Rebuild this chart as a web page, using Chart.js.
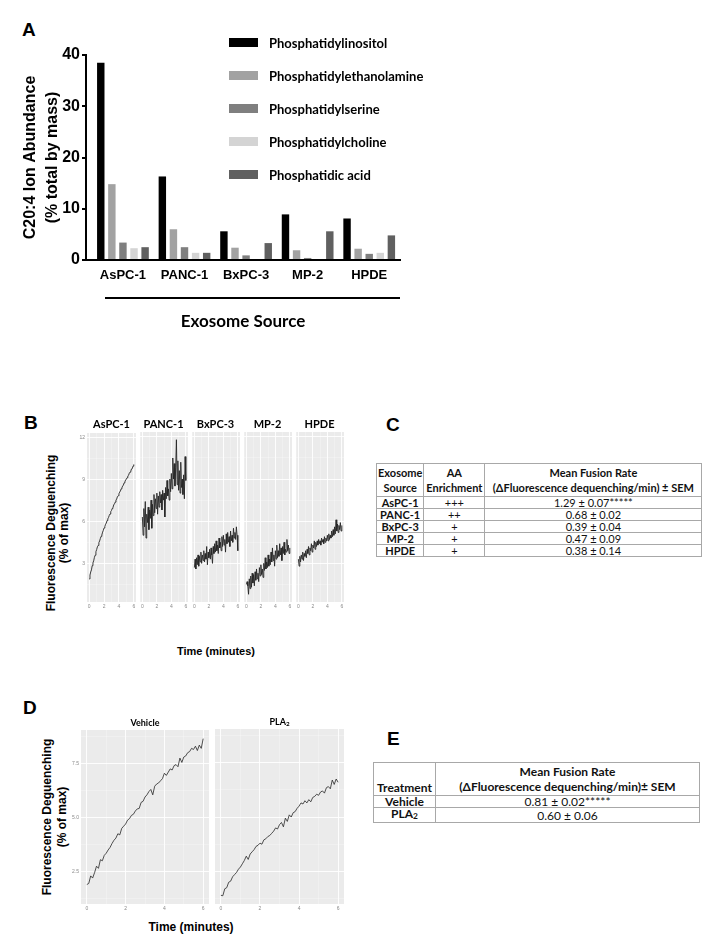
<!DOCTYPE html>
<html><head><meta charset="utf-8">
<script src="https://cdn.jsdelivr.net/npm/chart.js@4.4.0/dist/chart.umd.min.js"></script>
<style>
html,body{margin:0;padding:0;background:#fff;}
#page{position:relative;width:718px;height:944px;overflow:hidden;background:#fff;font-family:Arial,"Liberation Sans",sans-serif;color:#000;}
canvas{position:absolute;}
.letter{position:absolute;font:bold 19px Arial,"Liberation Sans",sans-serif;line-height:19px;}
.strip{position:absolute;font-family:Lato,sans-serif;font-weight:bold;white-space:nowrap;transform:translate(-50%,-50%);line-height:1;}
.ytitle{position:absolute;font-weight:bold;font-family:Arial,"Liberation Sans",sans-serif;text-align:center;white-space:nowrap;transform:translate(-50%,-50%) rotate(-90deg);}
.xtitle{position:absolute;font-weight:bold;font-family:Arial,"Liberation Sans",sans-serif;white-space:nowrap;transform:translate(-50%,-50%);line-height:1;}
#legendA{position:absolute;left:229px;top:26px;font-family:Lato,sans-serif;font-weight:bold;font-size:13px;}
#legendA .row{height:33px;display:flex;align-items:center;}
#legendA .sw{width:29px;height:9px;margin-right:11px;}
table{position:absolute;border-collapse:collapse;table-layout:fixed;font-family:Lato,sans-serif;color:#111;}
td{border:1px solid #a8a8a8;padding:0 1px;text-align:center;white-space:nowrap;overflow:visible;}
td.b{font-weight:bold;}
</style></head>
<body>
<div id="page">
  <div class="letter" style="left:22px;top:20px;">A</div>
  <div class="letter" style="left:24px;top:413px;">B</div>
  <div class="letter" style="left:386px;top:415px;">C</div>
  <div class="letter" style="left:23px;top:698px;">D</div>
  <div class="letter" style="left:387px;top:729px;">E</div>
  <canvas id="cA" width="410" height="340" style="left:0;top:0;width:410px;height:340px;"></canvas>
  <div id="legendA"></div>
  <div style="position:absolute;left:105px;top:297px;width:295px;height:2px;background:#000;"></div>
  <div class="ytitle" style="left:58px;top:533px;font-size:12px;line-height:13px;">Fluorescence Deguenching<br>(% of max)</div>
  <div class="xtitle" style="left:216px;top:651px;font-size:11px;">Time (minutes)</div>
  <div class="ytitle" style="left:55px;top:817px;font-size:12px;line-height:15px;">Fluorescence Deguenching<br>(% of max)</div>
  <div class="xtitle" style="left:191px;top:927px;font-size:12px;">Time (minutes)</div>
  <table id="tableC" style="left:376px;top:463px;font-size:11px;"></table>
  <table id="tableE" style="left:373px;top:762px;font-size:12px;"></table>
</div>
<script>
// ---------- Panel A data ----------
const categories = ['AsPC-1','PANC-1','BxPC-3','MP-2','HPDE'];
const lipidNames = ['Phosphatidylinositol','Phosphatidylethanolamine','Phosphatidylserine','Phosphatidylcholine','Phosphatidic acid'];
const lipidColors = ['#000000','#a2a2a2','#7f7f7f','#d4d4d4','#606060'];
const piValues = [38.5, 16.3, 5.6, 8.9, 8.1];
const peValues = [14.8, 6.0, 2.4, 1.9, 2.2];
const psValues = [3.4, 2.5, 0.9, 0.4, 1.2];
const pcValues = [2.3, 1.4, 0, 0, 1.4];
const paValues = [2.5, 1.4, 3.3, 5.6, 4.8];
const abundanceTicks = [0, 10, 20, 30, 40];

// ---------- Panel B / D data ----------
const timeMinutes = [0,0.1,0.2,0.3,0.4,0.5,0.6,0.7,0.8,0.9,1,1.1,1.2,1.3,1.4,1.5,1.6,1.7,1.8,1.9,2,2.1,2.2,2.3,2.4,2.5,2.6,2.7,2.8,2.9,3,3.1,3.2,3.3,3.4,3.5,3.6,3.7,3.8,3.9,4,4.1,4.2,4.3,4.4,4.5,4.6,4.7,4.8,4.9,5,5.1,5.2,5.3,5.4,5.5,5.6,5.7,5.8,5.9,6];
const fusionSources = ['AsPC-1','PANC-1','BxPC-3','MP-2','HPDE'];
const aspc1Trace = [1.90,2.18,2.40,2.55,2.85,3.05,3.20,3.45,3.60,3.85,4.00,4.20,4.30,4.50,4.62,4.80,4.95,5.05,5.25,5.38,5.55,5.65,5.82,5.90,6.08,6.20,6.30,6.45,6.55,6.72,6.80,6.95,7.02,7.20,7.28,7.40,7.55,7.62,7.80,7.85,8.00,8.12,8.20,8.35,8.42,8.55,8.62,8.78,8.85,8.98,9.05,9.15,9.28,9.32,9.48,9.55,9.62,9.78,9.80,9.98,10.10];
const panc1Trace = [6.3,5.0,6.9,5.6,7.4,4.8,6.5,5.9,7.0,5.4,6.8,6.2,7.5,5.5,7.2,6.4,7.9,6.6,7.6,6.9,8.0,6.5,7.8,7.0,8.1,7.3,7.9,6.8,8.2,7.5,8.0,6.3,8.4,7.6,8.9,7.8,8.3,7.5,9.0,8.1,9.4,8.3,10.5,9.0,10.1,8.5,9.8,11.8,8.6,10.3,8.2,9.6,8.0,10.2,8.4,9.0,7.9,9.3,7.6,10.6,8.9];
const bxpc3Trace = [2.7,3.3,2.6,3.4,2.9,3.6,2.8,3.5,3.1,3.8,3.0,3.6,3.2,3.9,3.1,3.7,3.3,4.2,2.9,3.8,3.4,4.0,3.3,4.1,3.6,3.0,4.2,3.7,4.4,3.8,4.6,3.9,4.3,3.7,4.8,4.1,4.5,3.9,4.9,4.2,5.0,4.3,4.7,3.8,5.1,4.4,5.2,4.5,4.9,4.2,5.3,4.6,5.0,4.5,5.5,4.8,5.2,4.7,5.6,5.0,3.9];
const mp2Trace = [1.5,1.7,1.4,0.8,1.9,1.2,2.1,1.3,2.3,1.6,2.2,1.4,2.4,1.8,2.6,1.9,2.3,1.7,2.7,2.1,2.9,2.2,2.6,2.0,3.0,2.5,3.4,2.6,3.1,2.7,3.6,2.8,3.3,2.9,3.8,3.1,4.1,3.2,3.6,2.8,3.9,3.3,4.3,3.4,3.9,3.5,4.4,3.6,4.1,3.2,4.2,3.7,4.5,3.6,4.0,3.8,4.7,3.9,4.3,3.7,4.1];
const hpdeTrace = [3.3,2.8,3.5,3.1,3.6,3.3,3.8,3.2,3.7,3.5,3.9,3.4,4.0,3.7,4.2,3.6,4.1,3.9,4.4,3.8,4.3,4.1,4.6,4.0,4.5,4.2,4.6,4.3,4.7,4.4,4.6,4.3,4.8,4.5,4.7,4.4,4.9,4.5,4.8,4.6,5.0,4.6,5.1,4.7,5.0,4.8,5.3,4.9,5.4,5.0,5.6,5.1,6.1,5.3,5.8,5.2,5.7,5.4,5.9,5.3,5.7];
const vehicleTrace = [1.90,1.95,2.30,2.20,2.45,2.75,2.65,3.05,3.00,3.25,3.35,3.50,3.62,3.80,3.95,4.05,4.25,4.20,4.50,4.60,4.70,4.88,4.95,5.10,5.15,5.30,5.40,5.42,5.70,5.75,5.95,6.05,6.20,6.30,6.05,6.45,6.55,6.60,6.70,6.80,7.05,6.95,7.10,7.25,7.20,7.40,7.45,7.35,7.75,7.55,7.80,7.85,8.00,8.05,8.20,8.15,8.30,8.10,8.35,8.20,8.65];
const pla2Trace = [1.40,1.38,1.70,1.75,2.00,2.05,2.25,2.35,2.45,2.60,2.70,2.85,3.00,3.20,3.05,3.30,3.40,3.50,3.65,3.70,3.80,3.75,3.95,4.00,4.10,4.15,4.25,4.35,4.50,4.45,4.65,4.75,4.55,4.95,4.80,5.10,5.00,5.20,5.25,5.40,5.50,5.65,5.60,5.75,5.65,5.80,5.70,5.90,5.95,6.05,6.00,6.15,6.20,6.10,6.35,6.40,6.30,6.70,6.50,6.75,6.60];
const timeGrid = [0,1,2,3,4,5,6];
const timeTicks = [0,2,4,6];
const gridB = [1.5,3,4.5,6,7.5,9,10.5,12];
const ticksB = [3,6,9,12];
const gridD = [1.25,2.5,3.75,5,6.25,7.5,8.75];
const ticksD = [2.5,5,7.5];

// ---------- Table data ----------
const aaEnrichment = ['+++','++','+','+','+'];
const fusionRateC = ['1.29 ± 0.07*****','0.68 ± 0.02','0.39 ± 0.04','0.47 ± 0.09','0.38 ± 0.14'];
const treatments = ['Vehicle','PLA2'];
const fusionRateE = ['0.81 ± 0.02*****','0.60 ± 0.06'];

Chart.defaults.font.family = 'Arial, "Liberation Sans", sans-serif';
const page = document.getElementById('page');

// ---------- Panel A ----------
const seriesA = [piValues, peValues, psValues, pcValues, paValues];
new Chart(document.getElementById('cA'), {
  type: 'bar',
  data: {
    datasets: seriesA.map((vals, k) => ({
      label: lipidNames[k],
      data: vals.map((v, i) => ({x: i, y: v})),
      backgroundColor: lipidColors[k],
      borderWidth: 0,
      categoryPercentage: 0.9,
      barPercentage: 0.67
    }))
  },
  options: {
    responsive: false, animation: false, events: [],
    layout: {padding: {top: 55, right: 10, left: 0, bottom: 0}},
    plugins: {legend: {display: false}, tooltip: {enabled: false}},
    scales: {
      x: {
        type: 'linear', min: -0.6, max: 4.5, offset: false,
        afterBuildTicks(s) { s.ticks = categories.map((c, i) => ({value: i})); },
        ticks: {autoSkip: false, maxRotation: 0, padding: 8, color: '#000',
          font: {weight: 'bold', size: 13}, callback: v => categories[v]},
        grid: {display: false, drawTicks: false, offset: false},
        border: {display: true, color: '#000', width: 2},
        title: {display: true, text: 'Exosome Source', color: '#000',
          font: {family: 'Lato', weight: 'bold', size: 17}, padding: {top: 0, bottom: 8}},
        afterFit(s) { s.height = 80; }
      },
      y: {
        min: 0, max: 40,
        afterBuildTicks(s) { s.ticks = abundanceTicks.map(v => ({value: v})); },
        ticks: {color: '#000', padding: 2, font: {weight: 'bold', size: 16}},
        grid: {display: true, drawOnChartArea: false, drawTicks: true, tickLength: 4, color: '#000', lineWidth: 2},
        border: {display: true, color: '#000', width: 2},
        title: {display: true, text: ['C20:4 Ion Abundance', '(% total by mass)'], color: '#000',
          font: {weight: 'bold', size: 16, lineHeight: 1.375}, padding: {top: 20, bottom: 0}},
        afterFit(s) { s.width = 86; }
      }
    }
  }
});

// Legend A (built from the dataset names/colours)
const legendA = document.getElementById('legendA');
lipidNames.forEach((n, k) => {
  const row = document.createElement('div'); row.className = 'row';
  const sw = document.createElement('div'); sw.className = 'sw'; sw.style.background = lipidColors[k];
  const tx = document.createElement('span'); tx.textContent = n;
  row.appendChild(sw); row.appendChild(tx); legendA.appendChild(row);
});

// ---------- Facet helper ----------
const panelBg = {
  id: 'panelBg',
  beforeDraw(chart) {
    const {ctx, chartArea: a} = chart;
    ctx.save(); ctx.fillStyle = '#ebebeb';
    ctx.fillRect(a.left, a.top, a.right - a.left, a.bottom - a.top);
    ctx.restore();
  }
};
function facet(cfg) {
  const padTop = 4, padRight = 2, xh = 10;
  const W = cfg.w + cfg.yw + padRight, H = padTop + cfg.h + xh;
  const c = document.createElement('canvas');
  c.width = W; c.height = H;
  c.style.left = (cfg.left - cfg.yw) + 'px'; c.style.top = (cfg.top - padTop) + 'px';
  c.style.width = W + 'px'; c.style.height = H + 'px';
  page.appendChild(c);
  const t = document.createElement('div');
  t.className = 'strip';
  t.style.left = (cfg.left + cfg.w / 2) + 'px'; t.style.top = cfg.titleY + 'px';
  t.style.fontSize = cfg.titleSize + 'px';
  t.innerHTML = cfg.title;
  page.appendChild(t);
  new Chart(c, {
    type: 'line',
    data: {datasets: [{data: timeMinutes.map((tm, i) => ({x: tm, y: cfg.values[i]})),
      borderColor: '#262626', borderWidth: cfg.lw, pointRadius: 0, tension: 0, fill: false}]},
    options: {
      responsive: false, animation: false, events: [],
      layout: {padding: {top: padTop, right: padRight, left: 0, bottom: 0}},
      plugins: {legend: {display: false}, tooltip: {enabled: false}},
      scales: {
        x: {
          type: 'linear', min: -0.3, max: 6.3,
          afterBuildTicks(s) { s.ticks = timeGrid.map(v => ({value: v})); },
          ticks: {autoSkip: false, maxRotation: 0, padding: 2, color: '#8a8a8a',
            font: {size: 5}, callback: v => timeTicks.includes(v) ? String(v) : ''},
          grid: {drawTicks: false,
            color: g => timeTicks.includes(g.tick.value) ? '#ffffff' : 'rgba(255,255,255,0.55)',
            lineWidth: g => timeTicks.includes(g.tick.value) ? 0.9 : 0.5},
          border: {display: false},
          afterFit(s) { s.height = xh; }
        },
        y: {
          min: cfg.yMin, max: cfg.yMax,
          afterBuildTicks(s) { s.ticks = cfg.grid.map(v => ({value: v})); },
          ticks: {display: cfg.yw > 0, autoSkip: false, padding: 2, color: '#8a8a8a',
            font: {size: 5}, callback: v => cfg.major.includes(v) ? cfg.fmt(v) : ''},
          grid: {drawTicks: false,
            color: g => cfg.major.includes(g.tick.value) ? '#ffffff' : 'rgba(255,255,255,0.55)',
            lineWidth: g => cfg.major.includes(g.tick.value) ? 0.9 : 0.5},
          border: {display: false},
          afterFit(s) { s.width = cfg.yw; }
        }
      }
    },
    plugins: [panelBg]
  });
}

// ---------- Panel B ----------
const tracesB = [aspc1Trace, panc1Trace, bxpc3Trace, mp2Trace, hpdeTrace];
const leftsB = [87, 139, 191, 243, 295];
tracesB.forEach((vals, i) => facet({
  left: leftsB[i], top: 432, w: 49, h: 170, yw: i === 0 ? 12 : 0,
  values: vals, yMin: 0.25, yMax: 12.35, grid: gridB, major: ticksB, fmt: v => String(v),
  title: fusionSources[i], titleY: 423, titleSize: 11, lw: 0.9
}));

// ---------- Panel D ----------
const tracesD = [vehicleTrace, pla2Trace];
const titlesD = ['Vehicle', 'PLA<sub style="font-size:70%;vertical-align:-1px;">2</sub>'];
const leftsD = [81, 215];
tracesD.forEach((vals, i) => facet({
  left: leftsD[i], top: 729, w: i === 0 ? 128 : 129, h: 175, yw: i === 0 ? 14 : 0,
  values: vals, yMin: 1.0, yMax: 9.05, grid: gridD, major: ticksD, fmt: v => v.toFixed(1),
  title: titlesD[i], titleY: 722, titleSize: 9, lw: 0.8
}));

// ---------- Table C ----------
(function () {
  const tb = document.getElementById('tableC');
  let h = '<colgroup><col style="width:46px"><col style="width:61px"><col style="width:217px"></colgroup>';
  h += '<tr style="height:33px;line-height:15px;"><td class="b">Exosome<br>Source</td><td class="b">AA<br>Enrichment</td><td class="b">Mean Fusion Rate<br>(ΔFluorescence dequenching/min) ± SEM</td></tr>';
  fusionSources.forEach((s, i) => {
    h += '<tr style="height:12px;line-height:11px;"><td class="b">' + s + '</td><td>' + aaEnrichment[i] + '</td><td>' + fusionRateC[i] + '</td></tr>';
  });
  tb.innerHTML = h;
})();

// ---------- Table E ----------
(function () {
  const tb = document.getElementById('tableE');
  let h = '<colgroup><col style="width:62px"><col style="width:264px"></colgroup>';
  h += '<tr style="height:33px;line-height:15px;"><td class="b" style="vertical-align:bottom;">Treatment</td><td class="b">Mean Fusion Rate<br>(ΔFluorescence dequenching/min)± SEM</td></tr>';
  treatments.forEach((s, i) => {
    const lab = s.replace(/2$/, '<sub style="font-size:70%;vertical-align:-1px;">2</sub>');
    h += '<tr style="height:12px;line-height:11px;"><td class="b">' + lab + '</td><td>' + fusionRateE[i] + '</td></tr>';
  });
  tb.innerHTML = h;
})();
</script>
</body></html>
